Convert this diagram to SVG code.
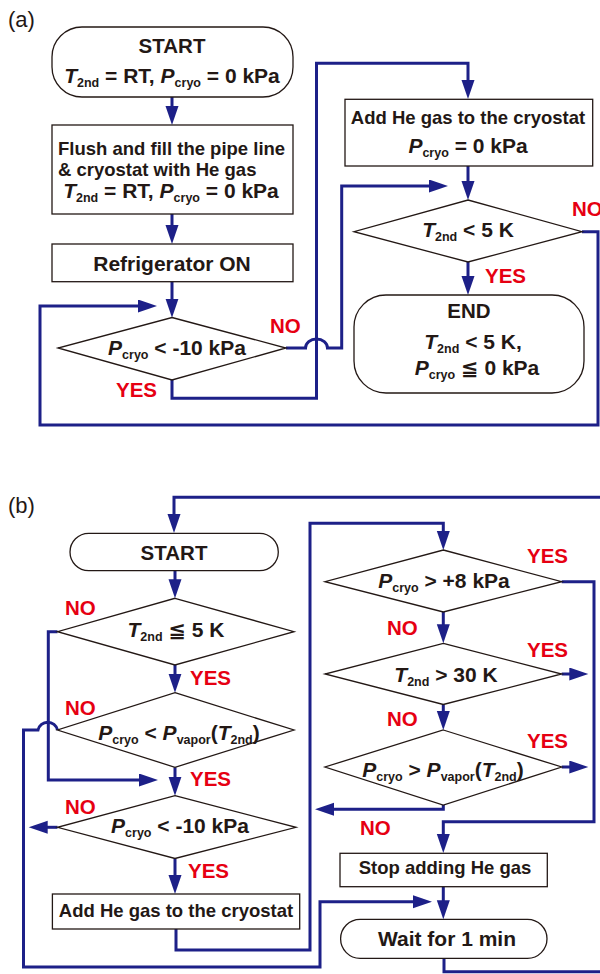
<svg xmlns="http://www.w3.org/2000/svg" width="600" height="974" viewBox="0 0 600 974">
<style>
text{font-family:"Liberation Sans",Arial,"DejaVu Sans",sans-serif;fill:#231815;font-weight:bold}
.box{fill:#fff;stroke:#231815;stroke-width:1.3}
.t{font-size:18.5px}
.m{font-size:21px}
.h{font-size:20.5px}
.i{font-style:italic}
.s{font-size:12.5px;font-style:normal}
.lab{font-size:20.5px;fill:#e60012}
.pl{font-size:22px;font-weight:normal}
.c{fill:none;stroke:#1d2088;stroke-width:3;stroke-linejoin:miter}
.ar{marker-end:url(#ah)}
</style>
<defs>
<marker id="ah" markerUnits="userSpaceOnUse" markerWidth="20" markerHeight="14" refX="11" refY="6.5" orient="auto"><path d="M0,0 L19,6.5 L0,13 z" fill="#1d2088"/></marker>
</defs>
<rect width="600" height="974" fill="#fff"/>
<text class="pl" x="8" y="27">(a)</text>
<text class="pl" x="8" y="513">(b)</text>

<g id="connectors">
<path class="c ar" d="M172,97 V117"/>
<path class="c ar" d="M172,214 V236"/>
<path class="c ar" d="M172,281.7 V309.7"/>
<path class="c ar" d="M172,380 V398.3 H316.5 V63.3 H468 V91"/>
<path class="c ar" d="M286,348 H305.5 A11,9 0 0 1 327.5,348 H341.7 V186 H440"/>
<path class="c ar" d="M468,166 V192"/>
<path class="c ar" d="M468,262 V287"/>
<path class="c ar" d="M582,231.7 H598 V425 H40 V306 H149"/>

<path class="c ar" d="M444,958.3 V971.7 H603 V497.3 H174 V525"/>
<path class="c ar" d="M175,570.7 V590.3"/>
<path class="c ar" d="M175,665 V684.7"/>
<path class="c ar" d="M57.5,631.7 H48.3 V780 H150"/>
<path class="c ar" d="M175,767.3 V787.7"/>
<path class="c ar" d="M57.5,730 A10,10 0 0 0 38,730 H23.5 V967 H320 V901.7 H424"/>
<path class="c ar" d="M57.5,827.3 H36.7"/>
<path class="c ar" d="M175,858.5 V886"/>
<path class="c ar" d="M176,929 V950 H310 V523.3 H443.3 V542"/>
<path class="c ar" d="M443.3,612 V635.3"/>
<path class="c ar" d="M443.3,704.5 V722"/>
<path class="c ar" d="M443.3,805 V809.3 H323"/>
<path class="c ar" d="M561.7,581.7 H594 V821.7 H443.3 V845"/>
<path class="c ar" d="M561.7,674 H580.3"/>
<path class="c ar" d="M561.7,767 H580.3"/>
<path class="c ar" d="M443.3,886.7 V911.3"/>
</g>

<g id="a_start">
<rect class="box" x="52" y="27" width="241" height="70" rx="30"/>
<text class="h" x="172" y="53" text-anchor="middle">START</text>
<text class="m" x="172" y="83" text-anchor="middle"><tspan class="i">T</tspan><tspan class="s" dy="4">2nd</tspan><tspan dy="-4"> = RT, </tspan><tspan class="i">P</tspan><tspan class="s" dy="4">cryo</tspan><tspan dy="-4"> = 0 kPa</tspan></text>
</g>
<g id="a_flush">
<rect class="box" x="52" y="125" width="241" height="89"/>
<text class="t" x="58" y="155">Flush and fill the pipe line</text>
<text class="t" x="58" y="176">&amp; cryostat with He gas</text>
<text class="m" x="171" y="198" text-anchor="middle"><tspan class="i">T</tspan><tspan class="s" dy="4">2nd</tspan><tspan dy="-4"> = RT, </tspan><tspan class="i">P</tspan><tspan class="s" dy="4">cryo</tspan><tspan dy="-4"> = 0 kPa</tspan></text>
</g>
<g id="a_refrig">
<rect class="box" x="52" y="244" width="241" height="37.7"/>
<text class="m" x="172" y="271" text-anchor="middle">Refrigerator ON</text>
</g>
<g id="a_dec1">
<polygon class="box" points="172,317.5 286,348 172,380 58,348"/>
<text class="m" x="177" y="355" text-anchor="middle"><tspan class="i">P</tspan><tspan class="s" dy="4">cryo</tspan><tspan dy="-4"> &lt; -10 kPa</tspan></text>
<text class="lab" x="270" y="333">NO</text>
<text class="lab" x="116" y="397">YES</text>
</g>
<g id="a_addhe">
<rect class="box" x="345" y="99.3" width="247.7" height="66.7"/>
<text class="t" x="468" y="124" text-anchor="middle">Add He gas to the cryostat</text>
<text class="m" x="468" y="153" text-anchor="middle"><tspan class="i">P</tspan><tspan class="s" dy="4">cryo</tspan><tspan dy="-4"> = 0 kPa</tspan></text>
</g>
<g id="a_dec2">
<polygon class="box" points="468,200 582,231.7 468,262 354,231.7"/>
<text class="m" x="468" y="237" text-anchor="middle"><tspan class="i">T</tspan><tspan class="s" dy="4">2nd</tspan><tspan dy="-4"> &lt; 5 K</tspan></text>
<text class="lab" x="572" y="216">NO</text>
<text class="lab" x="485" y="283">YES</text>
</g>
<g id="a_end">
<rect class="box" x="354" y="295" width="230" height="98" rx="32"/>
<text class="h" x="469" y="318" text-anchor="middle">END</text>
<text class="m" x="473" y="349" text-anchor="middle"><tspan class="i">T</tspan><tspan class="s" dy="4">2nd</tspan><tspan dy="-4"> &lt; 5 K,</tspan></text>
<text class="m" x="477" y="375" text-anchor="middle"><tspan class="i">P</tspan><tspan class="s" dy="4">cryo</tspan><tspan dy="-4"> ≦ 0 kPa</tspan></text>
</g>

<g id="b_start">
<rect class="box" x="70" y="533.3" width="208.3" height="37.4" rx="18.7"/>
<text class="h" x="174" y="560" text-anchor="middle">START</text>
</g>
<g id="b_dec1">
<polygon class="box" points="175,598.3 294,631.7 175,665 57.5,631.7"/>
<text class="m" x="176" y="637" text-anchor="middle"><tspan class="i">T</tspan><tspan class="s" dy="4">2nd</tspan><tspan dy="-4"> ≦ 5 K</tspan></text>
<text class="lab" x="65" y="615">NO</text>
<text class="lab" x="190" y="685">YES</text>
</g>
<g id="b_dec2">
<polygon class="box" points="175,692.7 294,730 175,767.3 57.5,730"/>
<text class="m" x="179" y="740" text-anchor="middle"><tspan class="i">P</tspan><tspan class="s" dy="4">cryo</tspan><tspan dy="-4"> &lt; </tspan><tspan class="i">P</tspan><tspan class="s" dy="4">vapor</tspan><tspan dy="-4">(</tspan><tspan class="i">T</tspan><tspan class="s" dy="4">2nd</tspan><tspan dy="-4">)</tspan></text>
<text class="lab" x="65" y="715">NO</text>
<text class="lab" x="190" y="786">YES</text>
</g>
<g id="b_dec3">
<polygon class="box" points="175,795.7 296,827.3 175,858.5 57.5,827.3"/>
<text class="m" x="180" y="833" text-anchor="middle"><tspan class="i">P</tspan><tspan class="s" dy="4">cryo</tspan><tspan dy="-4"> &lt; -10 kPa</tspan></text>
<text class="lab" x="65" y="814">NO</text>
<text class="lab" x="188" y="878">YES</text>
</g>
<g id="b_addhe">
<rect class="box" x="52.4" y="894" width="247.3" height="35"/>
<text class="t" x="176" y="917" text-anchor="middle">Add He gas to the cryostat</text>
</g>
<g id="b_dec4">
<polygon class="box" points="443.3,550 561.7,581.7 443.3,612 325,581.7"/>
<text class="m" x="444" y="588" text-anchor="middle"><tspan class="i">P</tspan><tspan class="s" dy="4">cryo</tspan><tspan dy="-4"> &gt; +8 kPa</tspan></text>
<text class="lab" x="527" y="563">YES</text>
<text class="lab" x="387" y="635">NO</text>
</g>
<g id="b_dec5">
<polygon class="box" points="443.3,643.3 561.7,674 443.3,704.5 325,674"/>
<text class="m" x="446" y="682" text-anchor="middle"><tspan class="i">T</tspan><tspan class="s" dy="4">2nd</tspan><tspan dy="-4"> &gt; 30 K</tspan></text>
<text class="lab" x="527" y="657">YES</text>
<text class="lab" x="387" y="726">NO</text>
</g>
<g id="b_dec6">
<polygon class="box" points="443.3,730 561.7,767 443.3,805 325,767"/>
<text class="m" x="443" y="777" text-anchor="middle"><tspan class="i">P</tspan><tspan class="s" dy="4">cryo</tspan><tspan dy="-4"> &gt; </tspan><tspan class="i">P</tspan><tspan class="s" dy="4">vapor</tspan><tspan dy="-4">(</tspan><tspan class="i">T</tspan><tspan class="s" dy="4">2nd</tspan><tspan dy="-4">)</tspan></text>
<text class="lab" x="527" y="748">YES</text>
<text class="lab" x="360" y="835">NO</text>
</g>
<g id="b_stop">
<rect class="box" x="340" y="853.3" width="207.3" height="33.4"/>
<text class="t" x="445" y="874" text-anchor="middle">Stop adding He gas</text>
</g>
<g id="b_wait">
<rect class="box" x="340.6" y="919.3" width="206.4" height="39" rx="19.5"/>
<text class="m" x="447" y="946" text-anchor="middle">Wait for 1 min</text>
</g>
</svg>
